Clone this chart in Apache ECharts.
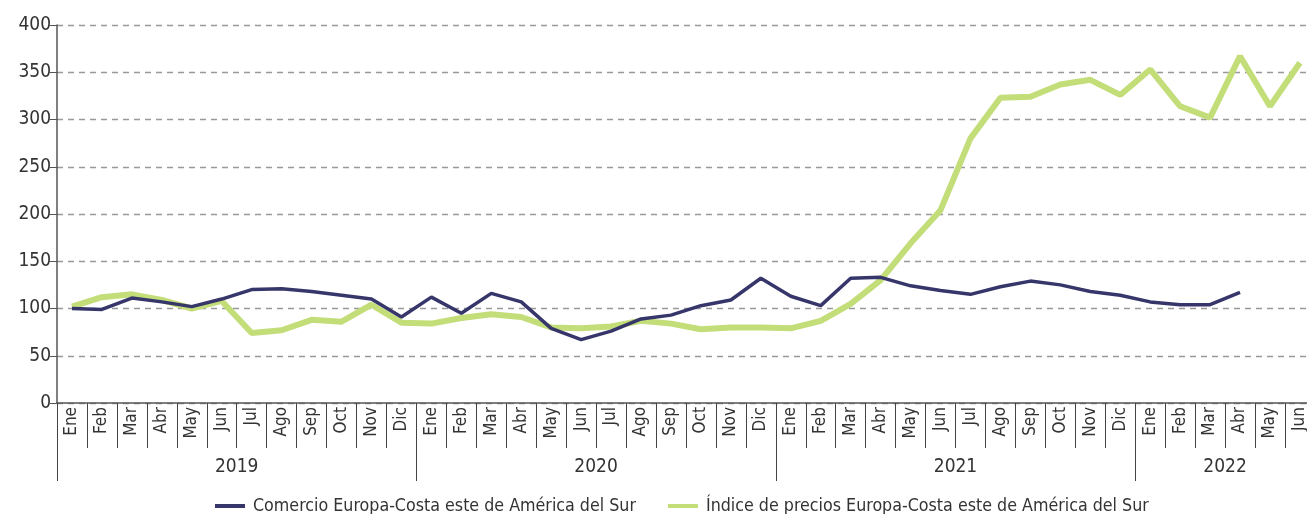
<!DOCTYPE html>
<html>
<head>
<meta charset="utf-8">
<script src="https://cdn.jsdelivr.net/npm/echarts@6/dist/echarts.min.js"></script>
<style>
  html, body { margin: 0; padding: 0; background: #fff; overflow: hidden; }
  /* the plot runs slightly past the right edge, so the canvas is wider than the view */
  #chart { width: 1320px; height: 514px; }
</style>
</head>
<body>
<div id="chart"></div>
<script>
// Month labels per year and the years they belong to
const monthNames = ['Ene','Feb','Mar','Abr','May','Jun','Jul','Ago','Sep','Oct','Nov','Dic'];
const years = ['2019', '2020', '2021', '2022'];
const monthsPerYear = [12, 12, 12, 6];

// Monthly index values (2019-01 = 100)
const comercio = [
  100, 99, 111, 107, 102, 110, 120, 121, 118, 114, 110, 91,
  112, 95, 116, 107, 79, 67, 76, 89, 93, 103, 109, 132,
  113, 103, 132, 133, 124, 119, 115, 123, 129, 125, 118, 114,
  107, 104, 104, 117, null, null
];
const indicePrecios = [
  102, 112, 115, 109, 100, 108, 74, 77, 88, 86, 104, 85,
  84, 90, 94, 91, 80, 79, 81, 87, 84, 78, 80, 80,
  79, 87, 105, 130, 169, 204, 280, 323, 324, 337, 342, 326,
  353, 314, 302, 367, 314, 360
];

const seriesNames = [
  'Comercio Europa-Costa este de América del Sur',
  'Índice de precios Europa-Costa este de América del Sur'
];

// Build month categories and year label positions (band centres in category units)
const categories = [];
const yearStart = [];
const yearCenters = {};
let idx = 0;
years.forEach((y, i) => {
  yearStart.push(idx);
  yearCenters[idx + monthsPerYear[i] / 2] = y;
  for (let m = 0; m < monthsPerYear[i]; m++) categories.push(monthNames[m]);
  idx += monthsPerYear[i];
});

const FONT = "'Liberation Sans Narrow', 'DejaVu Sans Condensed', 'Roboto', sans-serif";
const bandWidth = 29.95;

const chart = echarts.init(document.getElementById('chart'), null, { renderer: 'canvas' });
chart.setOption({
  animation: false,
  backgroundColor: '#ffffff',
  textStyle: { fontFamily: FONT },
  grid: { left: 57, top: 25, height: 378, width: bandWidth * categories.length, containLabel: false },
  legend: {
    left: 215,
    top: 497,
    padding: 0,
    itemGap: 32,
    itemWidth: 30,
    itemHeight: 4,
    icon: 'rect',
    textStyle: { fontFamily: FONT, fontSize: 17.7, color: '#333', padding: [0, 0, 0, 3] },
    data: seriesNames
  },
  xAxis: [
    {
      // month labels with separators between them
      type: 'category',
      data: categories,
      position: 'bottom',
      boundaryGap: true,
      axisLine: { show: true, lineStyle: { color: '#555', width: 1.5 } },
      axisTick: { show: true, interval: 0, length: 45, lineStyle: { color: '#444', width: 1 } },
      axisLabel: {
        interval: 0, rotate: 90, margin: 4,
        fontFamily: FONT, fontSize: 17, color: '#333'
      },
      splitLine: { show: false }
    },
    {
      // taller separators marking each year group
      type: 'category',
      data: categories,
      position: 'bottom',
      boundaryGap: true,
      axisLine: { show: false },
      axisTick: {
        show: true, length: 78,
        interval: (i) => yearStart.indexOf(i) !== -1,
        lineStyle: { color: '#444', width: 1 }
      },
      axisLabel: { show: false },
      splitLine: { show: false }
    },
    {
      // year labels centred under their months
      type: 'value',
      min: 0,
      max: categories.length,
      interval: 0.5,
      position: 'bottom',
      axisLine: { show: false },
      axisTick: { show: false },
      splitLine: { show: false },
      axisLabel: {
        margin: 55,
        fontFamily: FONT, fontSize: 19, color: '#333',
        showMinLabel: true, showMaxLabel: true,
        formatter: (v) => yearCenters[v] || ''
      }
    }
  ],
  yAxis: {
    type: 'value',
    min: 0,
    max: 400,
    interval: 50,
    axisLine: { show: true, lineStyle: { color: '#555', width: 1.5 } },
    axisTick: { show: true, length: 7, lineStyle: { color: '#555' } },
    axisLabel: { margin: 6, fontFamily: FONT, fontSize: 19, color: '#333' },
    splitLine: { show: true, lineStyle: { color: '#999', type: [6, 5], width: 1.3 } }
  },
  series: [
    {
      name: seriesNames[0],
      type: 'line',
      data: comercio,
      xAxisIndex: 0,
      yAxisIndex: 0,
      symbol: 'none',
      z: 3,
      connectNulls: false,
      color: '#37366b',
      lineStyle: { color: '#37366b', width: 3.5 }
    },
    {
      name: seriesNames[1],
      type: 'line',
      data: indicePrecios,
      xAxisIndex: 0,
      yAxisIndex: 0,
      symbol: 'none',
      z: 2,
      color: '#c3dd79',
      lineStyle: { color: '#c3dd79', width: 6 }
    }
  ]
});
</script>
</body>
</html>
